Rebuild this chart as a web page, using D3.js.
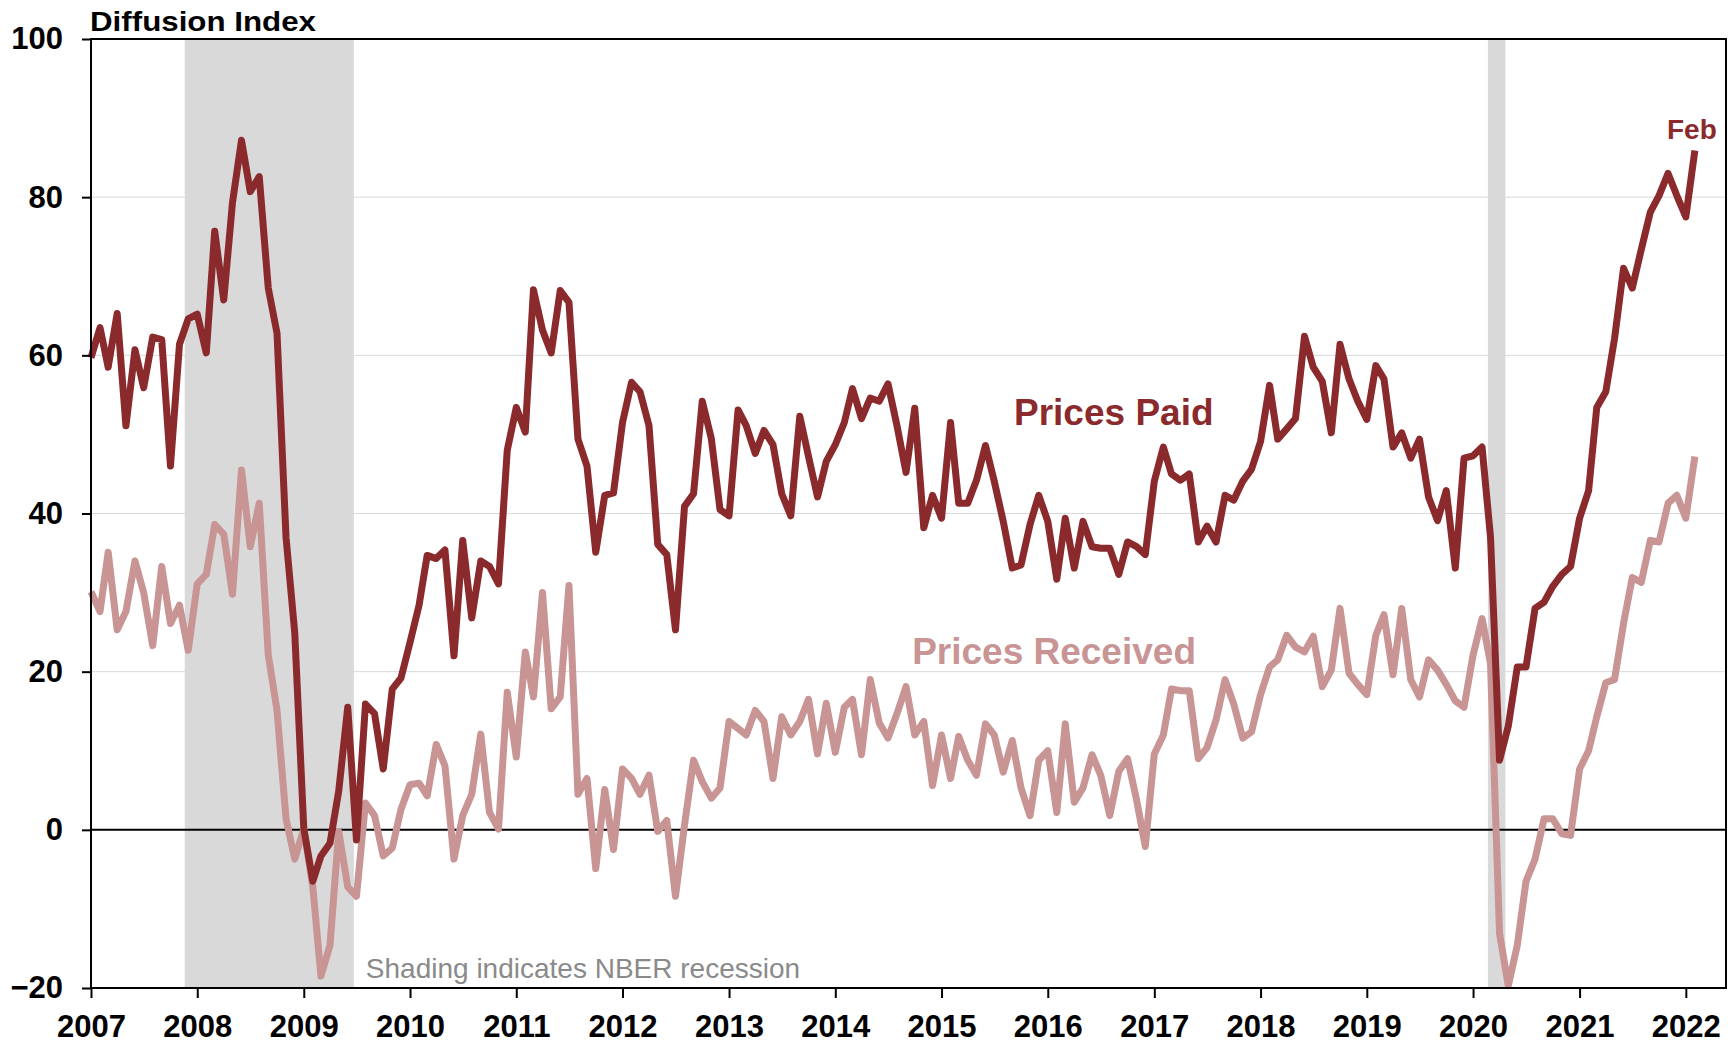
<!DOCTYPE html>
<html>
<head>
<meta charset="utf-8">
<script src="https://cdn.jsdelivr.net/npm/d3@7"></script>
<style>
  body { margin: 0; background: #fff; }
  svg { display: block; font-family: Arial, "Liberation Sans", Helvetica, sans-serif; }
</style>
</head>
<body>
<div id="chart"></div>
<script>
// Monthly series, Jan 2007 .. Feb 2022
const firstMonth = new Date(2007, 0, 1);

const pricesPaid = [
  59.7, 63.5, 58.5, 65.3, 51.1, 60.7, 55.9, 62.3, 62.0, 46.0, 61.4, 64.6, // 2007
  65.2, 60.3, 75.7, 67.0, 79.3, 87.2, 80.7, 82.6, 68.5, 62.8, 37.0, 24.9, // 2008
  0.2, -6.5, -3.3, -1.7, 4.9, 15.5, -1.3, 15.9, 14.7, 7.7, 17.8, 19.2,    // 2009
  23.7, 28.4, 34.7, 34.3, 35.4, 22.0, 36.6, 26.8, 34.0, 33.3, 31.1, 48.0, // 2010
  53.4, 50.3, 68.3, 63.2, 60.3, 68.2, 66.7, 49.4, 46.0, 35.1, 42.3, 42.6, // 2011
  51.5, 56.6, 55.4, 51.1, 36.1, 34.8, 25.3, 40.9, 42.5, 54.2, 49.5, 40.5, // 2012
  39.7, 53.1, 51.1, 47.6, 50.5, 48.7, 42.5, 39.7, 52.3, 47.2, 42.1, 46.6, // 2013
  48.7, 51.5, 55.8, 52.0, 54.6, 54.2, 56.4, 51.1, 45.2, 53.3, 38.2, 42.3, // 2014
  39.4, 51.5, 41.3, 41.3, 44.2, 48.6, 44.1, 39.0, 33.1, 33.5, 38.6, 42.3, // 2015
  39.0, 31.7, 39.4, 33.1, 39.0, 35.8, 35.6, 35.6, 32.3, 36.4, 35.8, 34.8, // 2016
  44.1, 48.4, 45.0, 44.2, 45.0, 36.4, 38.4, 36.4, 42.3, 41.7, 44.1, 45.6, // 2017
  49.1, 56.2, 49.4, 50.7, 52.0, 62.4, 58.5, 56.7, 50.2, 61.4, 57.0, 54.2, // 2018
  51.9, 58.7, 57.0, 48.4, 50.2, 47.0, 49.4, 42.1, 39.1, 42.9, 33.1, 47.0, // 2019
  47.3, 48.4, 37.0, 8.8, 13.1, 20.6, 20.6, 28.0, 28.8, 30.8, 32.3, 33.3,  // 2020
  39.4, 42.9, 53.4, 55.4, 62.1, 71.0, 68.5, 73.4, 78.1, 80.2, 83.0, 80.2, // 2021
  77.5, 85.9                                                              // 2022
];

const pricesReceived = [
  30.1, 27.6, 35.1, 25.3, 27.6, 34.0, 30.0, 23.3, 33.3, 26.1, 28.4, 22.7, // 2007
  31.1, 32.3, 38.6, 37.4, 29.8, 45.5, 35.8, 41.3, 22.1, 15.1, 1.4, -3.7,  // 2008
  0.1, -7.2, -18.5, -14.6, -0.2, -7.2, -8.4, 3.4, 1.8, -3.3, -2.3, 2.6,   // 2009
  5.7, 5.9, 4.3, 10.8, 8.1, -3.7, 1.8, 4.5, 12.1, 2.2, 0.1, 17.4,         // 2010
  9.2, 22.5, 16.8, 30.0, 15.3, 16.8, 30.9, 4.5, 6.5, -4.9, 5.1, -2.5,     // 2011
  7.7, 6.5, 4.5, 6.9, -0.2, 1.2, -8.4, 0.6, 8.8, 6.1, 4.0, 5.3,           // 2012
  13.7, 12.8, 12.0, 15.1, 13.7, 6.5, 14.3, 12.0, 13.7, 16.5, 9.6, 16.0,   // 2013
  9.8, 15.5, 16.5, 9.5, 19.0, 13.5, 11.6, 14.7, 18.1, 12.0, 13.7, 5.6,    // 2014
  12.0, 6.5, 11.8, 8.8, 6.9, 13.4, 12.0, 7.3, 11.3, 5.3, 1.8, 8.8,        // 2015
  10.0, 2.2, 13.4, 3.5, 5.3, 9.5, 6.9, 1.8, 7.4, 9.0, 3.8, -2.1,          // 2016
  9.6, 12.0, 17.8, 17.6, 17.6, 9.0, 10.4, 13.9, 19.0, 15.9, 11.6, 12.4,   // 2017
  17.1, 20.6, 21.5, 24.6, 23.1, 22.5, 24.5, 18.1, 20.2, 28.0, 19.8, 18.4, // 2018
  17.1, 24.6, 27.2, 19.6, 28.0, 19.0, 16.8, 21.5, 20.2, 18.4, 16.3, 15.5, // 2019
  22.1, 26.7, 21.0, -13.1, -19.7, -14.6, -6.5, -3.7, 1.4, 1.4, -0.5, -0.7, // 2020
  7.7, 10.0, 14.3, 18.6, 19.0, 26.1, 31.9, 31.3, 36.6, 36.4, 41.3, 42.3,  // 2021
  39.4, 47.2                                                              // 2022
];

// NBER recessions (shaded)
const recessions = [
  { start: '2007-11-19', end: '2009-06-22' },
  { start: '2020-02-21', end: '2020-04-21' }
];

const yTicks = [-20, 0, 20, 40, 60, 80, 100];
const gridValues = [20, 40, 60, 80];

const config = {
  width: 1736,
  height: 1044,
  margin: { top: 39, right: 10, bottom: 56, left: 91 },
  paidColor: '#8B2A2C',
  receivedColor: '#C89494',
  shadeColor: '#D9D9D9',
  lineWidth: 7
};

const parse = d3.timeParse('%Y-%m-%d');
const width = config.width - config.margin.left - config.margin.right;
const height = config.height - config.margin.top - config.margin.bottom;

const svg = d3.select('#chart').append('svg')
  .attr('width', config.width)
  .attr('height', config.height);

const chart = svg.append('g')
  .attr('transform', `translate(${config.margin.left},${config.margin.top})`);

const x = d3.scaleTime()
  .domain([firstMonth, new Date(2022, 4, 19)])
  .range([0, width]);

const y = d3.scaleLinear()
  .domain([-20, 100])
  .range([height, 0]);

const toPoints = arr => arr.map((v, i) => ({ date: d3.timeMonth.offset(firstMonth, i), value: v }));
const paid = toPoints(pricesPaid);
const received = toPoints(pricesReceived);

// recession shading
chart.selectAll('.recession')
  .data(recessions)
  .join('rect')
  .attr('class', 'recession')
  .attr('x', d => x(parse(d.start)))
  .attr('width', d => x(parse(d.end)) - x(parse(d.start)))
  .attr('y', 0)
  .attr('height', height)
  .attr('fill', config.shadeColor);

// horizontal gridlines
chart.selectAll('.grid')
  .data(gridValues)
  .join('line')
  .attr('class', 'grid')
  .attr('x1', 0)
  .attr('x2', width)
  .attr('y1', d => y(d))
  .attr('y2', d => y(d))
  .attr('stroke', '#D9D9D9')
  .attr('stroke-width', 1);

// zero line
chart.append('line')
  .attr('x1', 0)
  .attr('x2', width)
  .attr('y1', y(0))
  .attr('y2', y(0))
  .attr('stroke', '#000')
  .attr('stroke-width', 2);

const line = d3.line()
  .x(d => x(d.date))
  .y(d => y(d.value));

chart.append('path')
  .datum(received)
  .attr('fill', 'none')
  .attr('stroke', config.receivedColor)
  .attr('stroke-width', config.lineWidth)
  .attr('stroke-linejoin', 'round')
  .attr('d', line);

chart.append('path')
  .datum(paid)
  .attr('fill', 'none')
  .attr('stroke', config.paidColor)
  .attr('stroke-width', config.lineWidth)
  .attr('stroke-linejoin', 'round')
  .attr('d', line);

// frame
chart.append('rect')
  .attr('width', width)
  .attr('height', height)
  .attr('fill', 'none')
  .attr('stroke', '#000')
  .attr('stroke-width', 2);

// axes
const yAxis = chart.append('g')
  .call(d3.axisLeft(y).tickValues(yTicks).tickSize(9).tickPadding(19))
  .call(g => g.select('.domain').remove());
yAxis.selectAll('.tick line').attr('stroke', '#000').attr('stroke-width', 2);
yAxis.selectAll('.tick text')
  .attr('fill', '#000')
  .style('font-size', '31px')
  .style('font-weight', 'bold')
  .style('font-family', 'Arial, "Liberation Sans", sans-serif');

const xAxis = chart.append('g')
  .attr('transform', `translate(0,${height})`)
  .call(d3.axisBottom(x)
    .ticks(d3.timeYear.every(1))
    .tickFormat(d3.timeFormat('%Y'))
    .tickSize(10)
    .tickPadding(17))
  .call(g => g.select('.domain').remove());
xAxis.selectAll('.tick line').attr('stroke', '#000').attr('stroke-width', 2);
xAxis.selectAll('.tick text')
  .attr('fill', '#000')
  .style('font-size', '31px')
  .style('font-weight', 'bold')
  .style('font-family', 'Arial, "Liberation Sans", sans-serif');

// title
svg.append('text')
  .attr('x', config.margin.left - 1)
  .attr('y', 31)
  .attr('textLength', 226)
  .attr('lengthAdjust', 'spacingAndGlyphs')
  .style('font-size', '27px')
  .style('font-weight', 'bold')
  .attr('fill', '#000')
  .text('Diffusion Index');

// series labels
chart.append('text')
  .attr('x', x(new Date(2015, 8, 7)))
  .attr('y', y(51.2))
  .style('font-size', '37px')
  .style('font-weight', 'bold')
  .attr('fill', config.paidColor)
  .text('Prices Paid');

chart.append('text')
  .attr('x', x(new Date(2014, 8, 22)))
  .attr('y', y(21))
  .style('font-size', '37px')
  .style('font-weight', 'bold')
  .attr('fill', config.receivedColor)
  .text('Prices Received');

const last = paid[paid.length - 1];
chart.append('text')
  .attr('x', x(last.date) - 3)
  .attr('y', y(87.3))
  .attr('text-anchor', 'middle')
  .style('font-size', '28px')
  .style('font-weight', 'bold')
  .attr('fill', config.paidColor)
  .text('Feb');

chart.append('text')
  .attr('x', x(parse('2009-06-22')) + 12)
  .attr('y', y(-18.7))
  .style('font-size', '28px')
  .attr('fill', '#8A8A8A')
  .text('Shading indicates NBER recession');
</script>
</body>
</html>
